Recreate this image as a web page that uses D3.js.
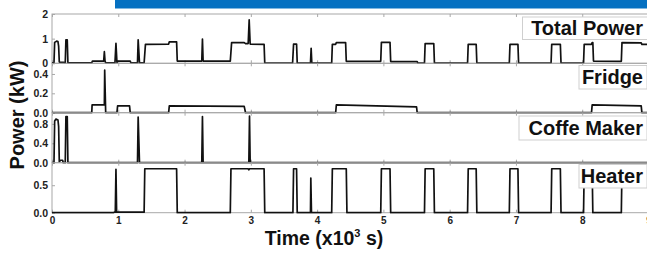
<!DOCTYPE html>
<html><head><meta charset="utf-8">
<script src="https://cdn.jsdelivr.net/npm/d3@7"></script>
<style>
html,body{margin:0;padding:0;background:#fff;}
svg{display:block;font-family:"Liberation Sans",Arial,sans-serif;}
</style></head>
<body><svg id="c" width="647" height="253"></svg>
<script>
// ---- data (time in x10^3 s, power in kW) ----
const panelNames = ["Total Power", "Fridge", "Coffe Maker", "Heater"];
const yMax = [2, 0.51, 1.03, 0.91];
const yTickVals = [[0, 1, 2], [0, 0.2, 0.4], [0, 0.4, 0.8], [0, 0.5]];
const yTickFmt = [d3.format("d"), d3.format(".1f"), d3.format(".1f"), d3.format(".1f")];
const xTicks = [0, 1, 2, 3, 4, 5, 6, 7, 8, 9];

const totalT = [0,0.03,0.04,0.07,0.09,0.1,0.11,0.17,0.19,0.2,0.21,0.23,0.24,0.6,0.61,0.78,0.79,0.8,0.81,0.95,0.965,0.98,0.99,1.18,1.19,1.29,1.3,1.32,1.39,1.41,1.76,1.77,1.88,1.89,2.26,2.27,2.28,2.69,2.71,2.9,2.92,2.96,2.975,2.99,3.2,3.21,3.63,3.645,3.69,3.7,3.9,3.91,3.92,4.22,4.23,4.28,4.29,4.43,4.44,4.96,4.97,5.1,5.11,5.51,5.52,5.62,5.63,5.76,5.77,6.27,6.28,6.4,6.41,6.9,6.91,7.03,7.04,7.53,7.54,7.67,7.68,8.02,8.03,8.14,8.15,8.16,8.17,8.59,8.6,8.89,8.9,9.0];
const totalV = [0.02,0.02,0.85,0.9,0.88,0.7,0.05,0.04,0.02,0.02,0.95,0.95,0.02,0.02,0.09,0.09,0.47,0.09,0.02,0.02,0.81,0.03,0.09,0.09,0.02,0.02,0.95,0.02,0.02,0.77,0.78,0.87,0.87,0.09,0.09,0.98,0.09,0.09,0.84,0.84,0.8,0.8,1.76,0.78,0.77,0.01,0.01,0.78,0.78,0.01,0.01,0.61,0.01,0.01,0.77,0.77,0.84,0.84,0.08,0.08,0.85,0.85,0.07,0.07,0.01,0.01,0.8,0.8,0.01,0.01,0.77,0.77,0.01,0.01,0.77,0.77,0.01,0.01,0.77,0.77,0.01,0.01,0.77,0.77,0.84,0.84,0.09,0.08,0.84,0.83,0.77,0.77];

const fridgeT = [0,0.6,0.605,0.79,0.795,0.81,0.98,0.99,1.17,1.18,1.76,1.77,2.9,2.92,4.28,4.29,5.5,5.51,8.14,8.15,8.89,8.9,9.0];
const fridgeV = [0,0,0.08,0.08,0.44,0,0,0.07,0.07,0,0,0.07,0.065,0,0,0.08,0.06,0,0,0.08,0.07,0,0];

const coffeeT = [0,0.03,0.04,0.06,0.09,0.1,0.11,0.13,0.16,0.17,0.2,0.21,0.23,0.24,1.29,1.3,1.32,2.26,2.27,2.28,2.97,2.98,2.99,9.0];
const coffeeV = [0,0,0.86,0.9,0.88,0.75,0.02,0.05,0.05,0,0,0.95,0.95,0,0,0.94,0,0,0.95,0,0,0.96,0,0];

const heaterT = [0,0.93,0.94,0.955,0.965,0.975,1.39,1.4,1.88,1.89,2.69,2.7,2.96,2.97,2.98,3.2,3.21,3.635,3.645,3.69,3.7,3.9,3.905,3.915,4.22,4.23,4.44,4.45,4.96,4.97,5.1,5.11,5.62,5.63,5.76,5.77,6.27,6.28,6.4,6.41,6.9,6.91,7.03,7.04,7.53,7.54,7.67,7.68,8.02,8.03,8.15,8.16,8.59,8.6,9.0];
const heaterV = [0,0,0.01,0.01,0.79,0.01,0.01,0.8,0.8,0,0,0.8,0.8,0.78,0.8,0.8,0,0,0.8,0.8,0,0,0.63,0,0,0.8,0.8,0,0,0.8,0.8,0,0,0.8,0.8,0,0,0.8,0.8,0,0,0.8,0.8,0,0,0.8,0.8,0,0,0.8,0.8,0,0,0.8,0.8];

const seriesT = [totalT, fridgeT, coffeeT, heaterT];
const seriesV = [totalV, fridgeV, coffeeV, heaterV];

// ---- layout ----
const svg = d3.select("#c");
const left = 52, right = 648.5;
const panelTop = [14, 63.3, 112.7, 162.7];
const panelBot = [63.3, 112.7, 162.7, 212.7];
const axisGray = "#a8a8a8";

svg.append("rect").attr("x", 115).attr("y", 0).attr("width", 532).attr("height", 8.5).attr("fill", "#0570c1");

const x = d3.scaleLinear().domain([0, 9]).range([left, right]);

const legendBox = [[522.5, 17, 125, 22.5], [579, 65.5, 68, 23.5], [519, 116, 128, 24], [579, 164.5, 68, 23.5]];

panelNames.forEach((name, i) => {
  const y = d3.scaleLinear().domain([0, yMax[i]]).range([panelBot[i], panelTop[i]]);
  const g = svg.append("g");
  g.append("rect").attr("x", left).attr("y", panelTop[i]).attr("width", right - left)
    .attr("height", panelBot[i] - panelTop[i]).attr("fill", "none").attr("stroke", axisGray).attr("stroke-width", 1);
  const xb = g.append("g").attr("transform", `translate(0,${panelBot[i]})`)
    .call(d3.axisBottom(x).tickValues(xTicks).tickSize(-3).tickFormat(i === 3 ? d3.format("d") : ""));
  const xt = g.append("g").attr("transform", `translate(0,${panelTop[i]})`)
    .call(d3.axisTop(x).tickValues(xTicks).tickSize(-3).tickFormat(""));
  [xb, xt].forEach(a => { a.select(".domain").remove(); a.selectAll("line").attr("stroke", axisGray); });
  xb.selectAll("text").attr("font-size", 10).attr("font-weight", "bold").attr("fill", "#222").attr("dy", "0.85em");
  const ya = g.append("g").attr("transform", `translate(${left},0)`)
    .call(d3.axisLeft(y).tickValues(yTickVals[i]).tickSize(-3).tickPadding(4).tickFormat(yTickFmt[i]));
  ya.select(".domain").remove();
  ya.selectAll("line").attr("stroke", axisGray);
  ya.selectAll("text").attr("font-size", 10.5).attr("font-weight", "bold").attr("fill", "#222");
  svg.append("clipPath").attr("id", "cp" + i).append("rect")
    .attr("x", left).attr("y", panelTop[i] - 2).attr("width", right - left).attr("height", panelBot[i] - panelTop[i] + 3);
  const data = seriesT[i].map((t, k) => [t, seriesV[i][k]]);
  g.append("path").datum(data).attr("clip-path", `url(#cp${i})`)
    .attr("d", d3.line().x(d => x(d[0])).y(d => y(d[1])))
    .attr("fill", "none").attr("stroke", "#111").attr("stroke-width", 1.7).attr("stroke-linejoin", "round");
  const b = legendBox[i];
  g.append("rect").attr("x", b[0]).attr("y", b[1]).attr("width", b[2]).attr("height", b[3])
    .attr("fill", "#fff").attr("stroke", "#cfcfcf").attr("stroke-width", 1);
  g.append("text").attr("x", 643).attr("y", b[1] + b[3] - 5).attr("text-anchor", "end")
    .attr("font-size", 20).attr("font-weight", "bold").attr("fill", "#111").text(name);
});

svg.append("text").attr("transform", "translate(24,115) rotate(-90)").attr("text-anchor", "middle")
  .attr("font-size", 20).attr("font-weight", "bold").attr("fill", "#111").text("Power (kW)");
const xt = svg.append("text").attr("x", 324).attr("y", 244.5).attr("text-anchor", "middle")
  .attr("font-size", 19.5).attr("font-weight", "bold").attr("fill", "#111");
xt.append("tspan").text("Time (x10");
xt.append("tspan").attr("font-size", 11).attr("dy", -8).text("3");
xt.append("tspan").attr("dy", 8).text(" s)");
</script></body></html>
